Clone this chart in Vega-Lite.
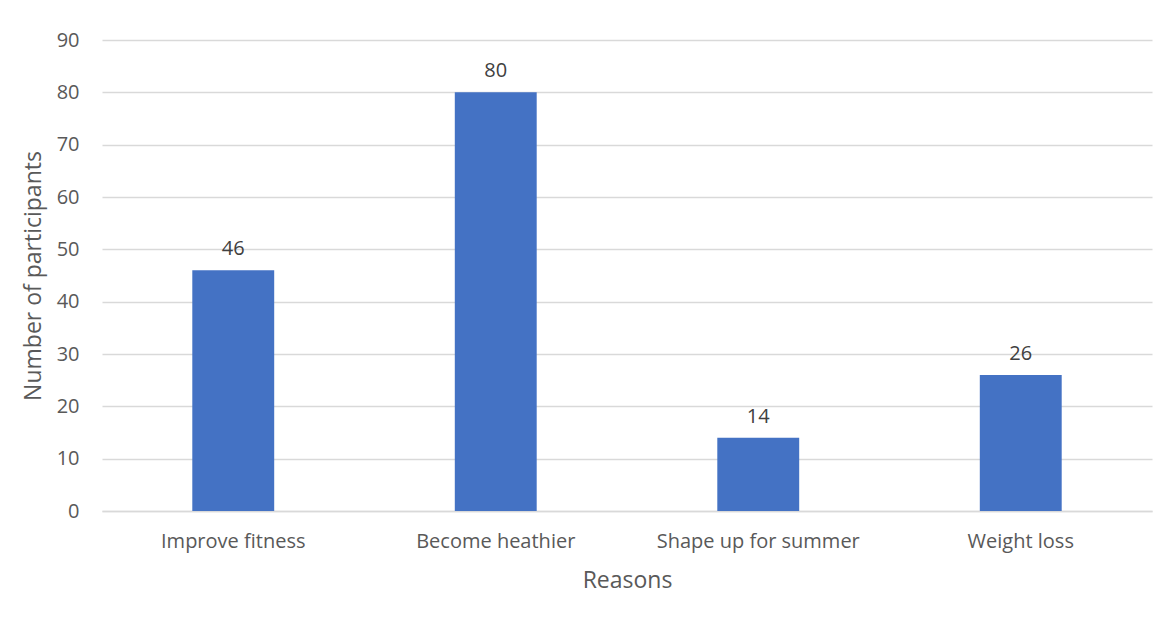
{
  "$schema": "https://vega.github.io/schema/vega-lite/v6.json",
  "autosize": "none",
  "padding": {"left": 102, "top": 40, "right": 15, "bottom": 121},
  "width": 1050,
  "height": 471,
  "background": "white",
  "data": {
    "values": [
      {"reason": "Improve fitness", "participants": 46},
      {"reason": "Become heathier", "participants": 80},
      {"reason": "Shape up for summer", "participants": 14},
      {"reason": "Weight loss", "participants": 26}
    ]
  },
  "encoding": {
    "x": {
      "field": "reason",
      "type": "nominal",
      "sort": null,
      "scale": {"paddingInner": 0.688, "paddingOuter": 0.344},
      "axis": {
        "title": "Reasons",
        "labelAngle": 0,
        "labelLimit": 400,
        "ticks": false,
        "domain": true,
        "domainColor": "#d9d9d9",
        "domainWidth": 1.5,
        "labelPadding": 20,
        "titlePadding": 18
      }
    },
    "y": {
      "field": "participants",
      "type": "quantitative",
      "scale": {"domain": [0, 90]},
      "axis": {
        "title": "Number of participants",
        "values": [0, 10, 20, 30, 40, 50, 60, 70, 80, 90],
        "ticks": false,
        "domain": false,
        "grid": true,
        "gridColor": "#d9d9d9",
        "gridWidth": 1.5,
        "labelPadding": 23,
        "titlePadding": 11
      }
    }
  },
  "layer": [
    {"mark": {"type": "bar", "color": "#4472C4"}},
    {
      "mark": {"type": "text", "baseline": "bottom", "dy": -11, "fontSize": 20, "font": "Open Sans", "color": "#404040"},
      "encoding": {"text": {"field": "participants", "type": "quantitative"}}
    }
  ],
  "config": {
    "font": "Open Sans",
    "view": {"stroke": null},
    "axis": {
      "labelFont": "Open Sans",
      "labelFontSize": 20,
      "labelColor": "#595959",
      "titleFont": "Open Sans",
      "titleFontSize": 23,
      "titleFontWeight": "normal",
      "titleColor": "#595959"
    }
  }
}
